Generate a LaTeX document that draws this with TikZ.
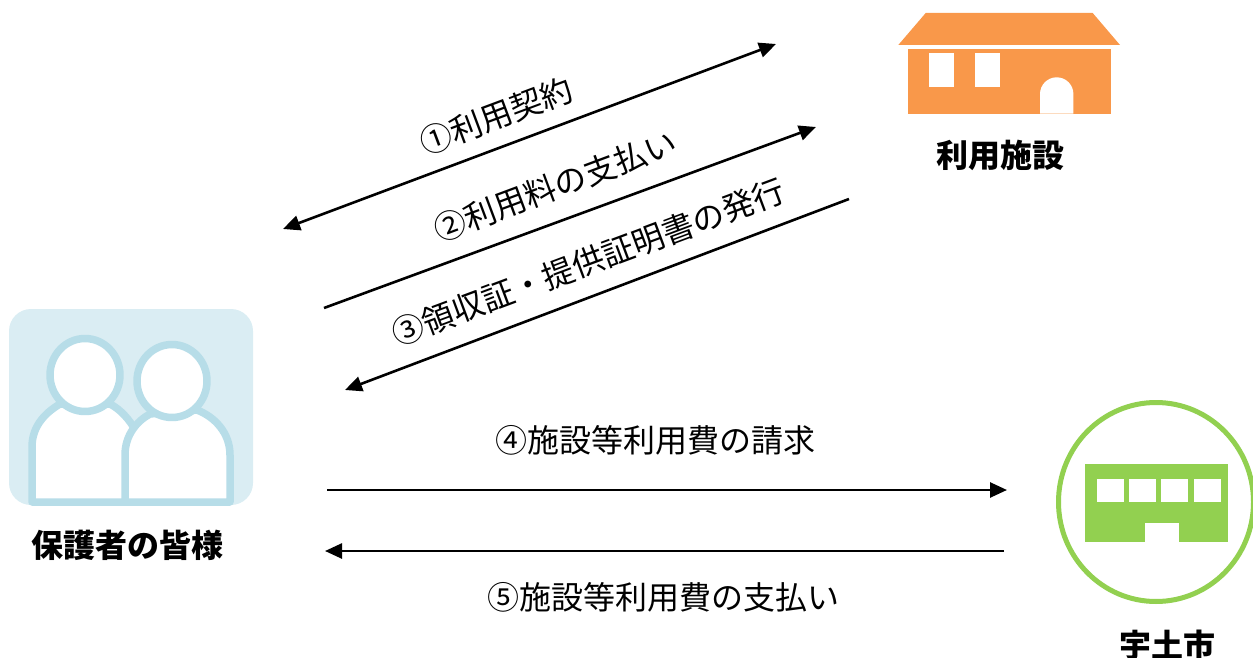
\documentclass[tikz,border=0pt]{standalone}
\usepackage{fontspec}
\setmainfont{Noto Sans CJK JP}
\usetikzlibrary{arrows.meta}
\definecolor{pbg}{HTML}{DAEDF3}
\definecolor{pline}{HTML}{B7DDE8}
\definecolor{house}{HTML}{F9984A}
\definecolor{city}{HTML}{92D050}
\tikzset{
  flow/.style={line width=2.6pt,-{Stealth[length=17pt,width=15pt,inset=0pt]}},
  flowboth/.style={line width=2.6pt,{Stealth[length=17pt,width=15pt,inset=0pt]}-{Stealth[length=17pt,width=15pt,inset=0pt]}},
  lab/.style={font=\fontsize{32}{34}\selectfont,inner sep=0pt},
  title/.style={font=\fontsize{32}{34}\selectfont\bfseries,inner sep=0pt},
  pers/.style={draw=pline,line width=7.5pt,fill=white,line join=round},
}
\begin{document}
\begin{tikzpicture}[x=1pt,y=-1pt]
\useasboundingbox (0,0) rectangle (1253,658);
% parents icon
\fill[pbg,rounded corners=22pt] (9,309) rectangle (253,505);
\draw[pers] (32,502) -- (32,447) .. controls (32,428) and (43,414) .. (60,404) -- (110,404) .. controls (120,409) and (130,420) .. (135,430) -- (128,502) -- cycle;
\draw[pers] (85,375) ellipse [x radius=35,y radius=36.5];
\draw[pers] (125,502) -- (125,455) .. controls (125,435) and (137,421) .. (150,414) -- (197,410) .. controls (215,417) and (230,433) .. (230,455) -- (230,502) -- cycle;
\draw[pers] (172,381) ellipse [x radius=35,y radius=36.5];
% facility icon
\fill[house] (925.7,13) -- (1092.7,13) -- (1120,45) -- (898.3,45) -- cycle;
\fill[house] (908,49) rectangle (1111,113.7);
\fill[white] (929,53) rectangle (954,87);
\fill[white] (975,53) rectangle (1000,87);
\fill[white] (1040,113.7) -- (1040,94) arc[start angle=180,end angle=360,radius=16.7] -- (1073.4,113.7) -- cycle;
% city icon
\draw[city,line width=5pt] (1156,502) ellipse [x radius=97.5,y radius=99.5];
\fill[city] (1085,464) rectangle (1228,542);
\fill[white] (1097,479) rectangle (1124,502);
\fill[white] (1129,479) rectangle (1156,502);
\fill[white] (1161,479) rectangle (1188,502);
\fill[white] (1194,479) rectangle (1221,502);
\fill[white] (1145,523) rectangle (1179,542);
% titles
\node[title] (parents) at (127,545) {保護者の皆様};
\node[title] (facility) at (1000,155) {利用施設};
\node[title] (cityhall) at (1167,645) {宇土市};
% connector ends
\coordinate (a1) at (283,229); \coordinate (b1) at (776,44);
\coordinate (a2) at (324,308); \coordinate (b2) at (816,127);
\coordinate (a3) at (849,199); \coordinate (b3) at (345,390);
\coordinate (a4) at (327,490); \coordinate (b4) at (1007,490);
\coordinate (a5) at (1004,551); \coordinate (b5) at (325,551);
\draw[flowboth] (a1) -- (b1);
\draw[flow] (a2) -- (b2);
\draw[flow] (a3) -- (b3);
\draw[flow] (a4) -- (b4);
\draw[flow] (a5) -- (b5);
% labels
\node[lab,rotate=20.5] (l1) at (496,116) {①利用契約};
\node[lab,rotate=20.5] (l2) at (555,186) {②利用料の支払い};
\node[lab,rotate=20.5] (l3) at (588,262) {③領収証・提供証明書の発行};
\node[lab] (l4) at (655,440) {④施設等利用費の請求};
\node[lab] (l5) at (663,597) {⑤施設等利用費の支払い};
\end{tikzpicture}
\end{document}
